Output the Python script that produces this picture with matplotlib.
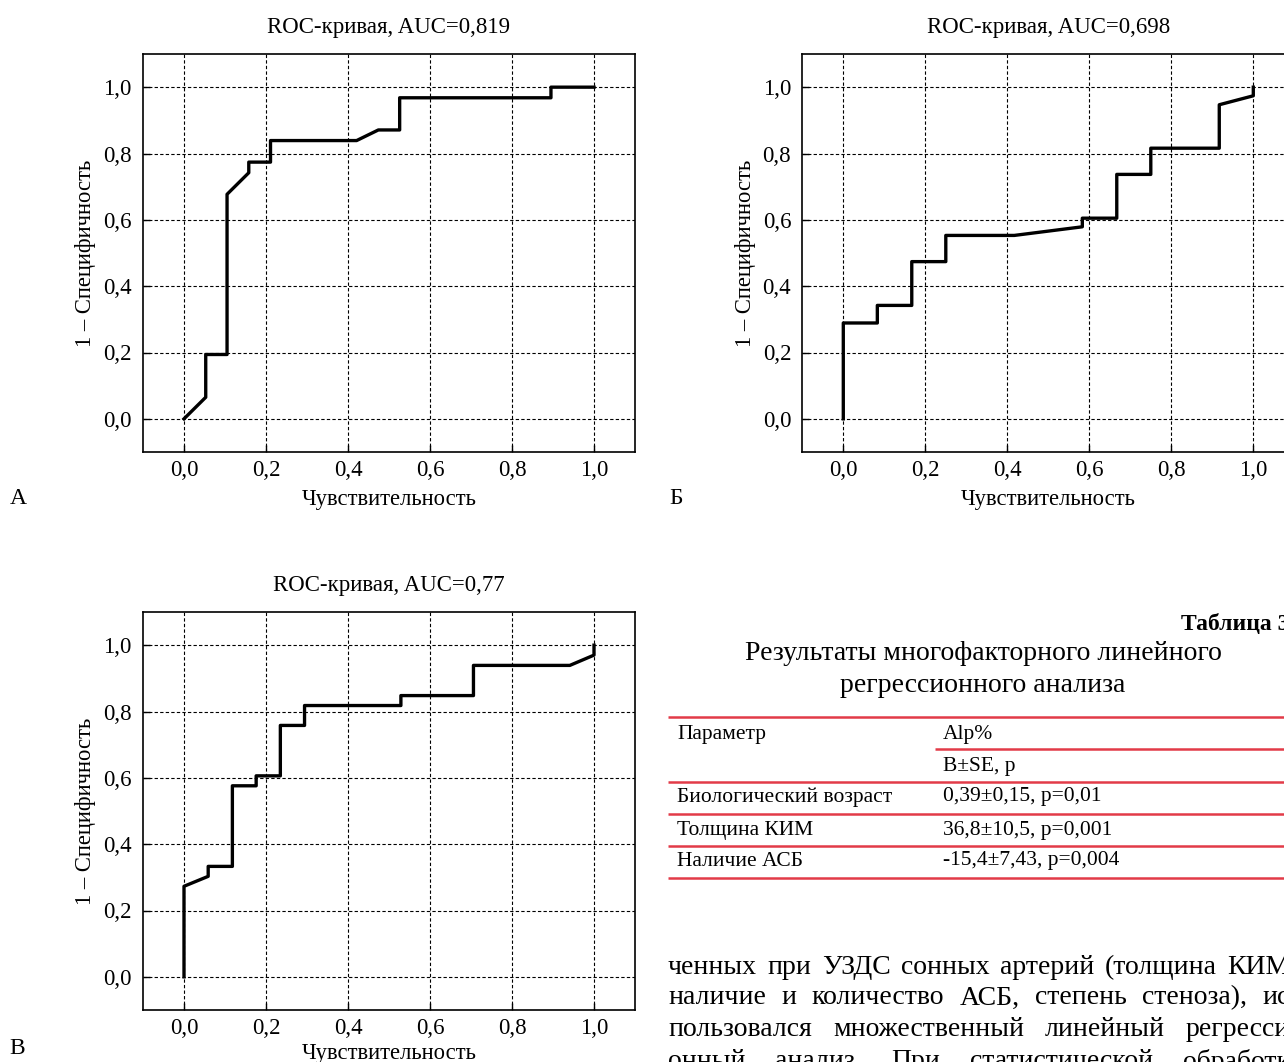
import matplotlib
matplotlib.use('Agg')
import matplotlib.pyplot as plt

plt.rcParams['font.family'] = ['Liberation Serif', 'DejaVu Serif']

# ROC curve points
roc_a_x = [0.0, 0.053, 0.053, 0.105, 0.105, 0.158, 0.158, 0.211, 0.211, 0.421, 0.474, 0.526, 0.526, 0.895, 0.895, 1.0]
roc_a_y = [0.0, 0.065, 0.194, 0.194, 0.677, 0.742, 0.774, 0.774, 0.839, 0.839, 0.871, 0.871, 0.968, 0.968, 1.0, 1.0]

roc_b_x = [0.0, 0.0, 0.083, 0.083, 0.167, 0.167, 0.25, 0.25, 0.417, 0.583, 0.583, 0.667, 0.667, 0.75, 0.75, 0.917, 0.917, 1.0, 1.0]
roc_b_y = [0.0, 0.289, 0.289, 0.342, 0.342, 0.474, 0.474, 0.553, 0.553, 0.579, 0.605, 0.605, 0.737, 0.737, 0.816, 0.816, 0.947, 0.974, 1.0]

roc_c_x = [0.0, 0.0, 0.059, 0.059, 0.118, 0.118, 0.176, 0.176, 0.235, 0.235, 0.294, 0.294, 0.529, 0.529, 0.706, 0.706, 0.941, 1.0, 1.0]
roc_c_y = [0.0, 0.273, 0.303, 0.333, 0.333, 0.576, 0.576, 0.606, 0.606, 0.758, 0.758, 0.818, 0.818, 0.848, 0.848, 0.939, 0.939, 0.970, 1.0]

titles = ['ROC-кривая, AUC=0,819', 'ROC-кривая, AUC=0,698', 'ROC-кривая, AUC=0,77']
panel_letters = ['А', 'Б', 'В']
tick_values = [0.0, 0.2, 0.4, 0.6, 0.8, 1.0]
tick_labels = ['0,0', '0,2', '0,4', '0,6', '0,8', '1,0']
x_label = 'Чувствительность'
y_label = '1 – Специфичность'

table_caption = 'Таблица 3'
table_title = ['Результаты многофакторного линейного', 'регрессионного анализа']
table_params = ['Параметр', '', 'Биологический возраст', 'Толщина КИМ', 'Наличие АСБ']
table_values = ['Alp%', 'B±SE, p', '0,39±0,15, p=0,01', '36,8±10,5, p=0,001', '-15,4±7,43, p=0,004']

body_lines = [
    'ченных при УЗДС сонных артерий (толщина КИМ',
    'наличие и количество АСБ, степень стеноза), ис',
    'пользовался множественный линейный регресси',
    'онный анализ. При статистической обработк',
]

W, H = 1284, 1062
fig = plt.figure(figsize=(W / 100, H / 100), dpi=100)

# overlay in pixel coordinates for the table and the text
ov = fig.add_axes([0, 0, 1, 1])
ov.set_xlim(0, W)
ov.set_ylim(H, 0)
ov.axis('off')


def draw_roc(rect, x, y, title, xlabelpad=6):
    ax = fig.add_axes(rect)
    ax.plot(x, y, color='black', lw=2.4, zorder=3)
    ax.set_xlim(-0.1, 1.1)
    ax.set_ylim(-0.1, 1.1)
    ax.set_xticks(tick_values)
    ax.set_xticklabels(tick_labels)
    ax.set_yticks(tick_values)
    ax.set_yticklabels(tick_labels)
    ax.grid(True, color='black', lw=0.8, linestyle=(0, (3, 2)))
    ax.tick_params(direction='in', length=5, width=1, labelsize=16.5)
    ax.tick_params(axis='x', pad=5.5)
    ax.tick_params(axis='y', pad=8)
    for s in ax.spines.values():
        s.set_linewidth(1.2)
    ax.set_title(title, fontsize=16.5, pad=15)
    ax.set_xlabel(x_label, fontsize=16.3, labelpad=xlabelpad)
    ax.set_ylabel(y_label, fontsize=16.3, labelpad=5)
    return ax


ax_w = 492 / W
ax_h = 398 / H
draw_roc([143 / W, (H - 452) / H, ax_w, ax_h], roc_a_x, roc_a_y, titles[0])
draw_roc([802.3 / W, (H - 452) / H, ax_w, ax_h], roc_b_x, roc_b_y, titles[1])
draw_roc([143 / W, (H - 1010) / H, ax_w, ax_h], roc_c_x, roc_c_y, titles[2], xlabelpad=3)

# panel letters
for letter, (px, py) in zip(panel_letters, [(18, 498), (676, 498), (17, 1049)]):
    ov.text(px, py, letter, fontsize=17, ha='center', va='center')

# table caption and title
ov.text(1181, 625, table_caption, fontsize=17, fontweight='bold', ha='left', va='center')
ov.text(983, 653, table_title[0], fontsize=20, ha='center', va='center')
ov.text(983, 685, table_title[1], fontsize=20, ha='center', va='center')

red = '#e23b48'
row_y = [734, 766, 797, 830, 861]
full_lines = [717, 782, 814, 846, 878]
for ly in full_lines:
    ov.plot([668, W], [ly, ly], color=red, lw=1.8, solid_capstyle='butt')
ov.plot([935, W], [749, 749], color=red, lw=1.8, solid_capstyle='butt')
for ry, p, v in zip(row_y, table_params, table_values):
    ov.text(677, ry, p, fontsize=15.5, ha='left', va='center')
    ov.text(943, ry, v, fontsize=15.5, ha='left', va='center')

# justified body text
renderer = fig.canvas.get_renderer()
body_y = [967, 998, 1030, 1062]
for line, by in zip(body_lines, body_y):
    words = line.split(' ')
    texts = [ov.text(0, by, w, fontsize=20, ha='left', va='center') for w in words]
    widths = [t.get_window_extent(renderer).width for t in texts]
    gap = max(6, (1290 - 668 - sum(widths)) / (len(words) - 1))
    xpos = 668
    for t, w in zip(texts, widths):
        t.set_x(xpos)
        xpos += w + gap

fig.savefig('out.png', dpi=100)
